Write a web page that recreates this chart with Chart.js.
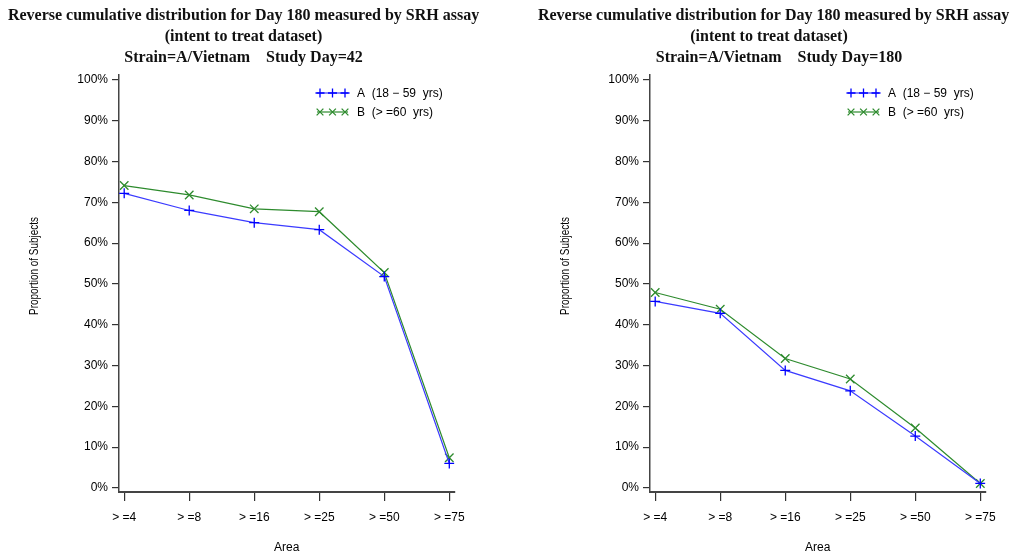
<!DOCTYPE html>
<html>
<head>
<meta charset="utf-8">
<script src="https://cdn.jsdelivr.net/npm/chart.js@4.4.1/dist/chart.umd.min.js"></script>
<style>
  html, body { margin: 0; padding: 0; background: #fff; }
  #wrap { position: relative; width: 1010px; height: 558px; overflow: hidden; }
  .panel { position: absolute; top: 0; width: 505px; height: 558px; }
</style>
</head>
<body>
<div id="wrap">
  <div class="panel" style="left:0"><canvas id="c1" width="505" height="558"></canvas></div>
  <div class="panel" style="left:505px"><canvas id="c2" width="505" height="558"></canvas></div>
</div>
<script>
// ---- data ----
const categories = ['> =4', '> =8', '> =16', '> =25', '> =50', '> =75'];
const yTicks = [0, 10, 20, 30, 40, 50, 60, 70, 80, 90, 100];
const day42A = [72.2, 68.0, 65.0, 63.3, 51.8, 6.0];
const day42B = [74.1, 71.8, 68.4, 67.7, 52.8, 7.4];
const day180A = [45.7, 42.8, 28.8, 23.8, 12.7, 1.1];
const day180B = [47.9, 43.8, 31.7, 26.7, 14.7, 1.1];
const seriesNames = ['A  (18 \u2212 59  yrs)', 'B  (> =60  yrs)'];
const titleLines42 = ['Reverse cumulative distribution for Day 180 measured by SRH assay', '(intent to treat dataset)', 'Strain=A/Vietnam    Study Day=42'];
const titleLines180 = ['Reverse cumulative distribution for Day 180 measured by SRH assay', '(intent to treat dataset)', 'Strain=A/Vietnam    Study Day=180'];
const yTitle = 'Proportion of Subjects';
const xTitle = 'Area';

const BLUE = '#0000ff';
const BLUE_LINE = '#3b3bff';
const GREEN = '#2e8b2e';
const SANS = '"Liberation Sans", Arial, sans-serif';
const SERIF = '"Liberation Serif", "Times New Roman", serif';

function drawMarker(ctx, style, x, y, r, color) {
  ctx.save();
  ctx.strokeStyle = color;
  ctx.lineWidth = 1.3;
  ctx.beginPath();
  if (style === 'cross') {
    ctx.moveTo(x - r, y); ctx.lineTo(x + r, y);
    ctx.moveTo(x, y - r); ctx.lineTo(x, y + r);
  } else {
    const d = r * 0.75;
    ctx.moveTo(x - d, y - d); ctx.lineTo(x + d, y + d);
    ctx.moveTo(x - d, y + d); ctx.lineTo(x + d, y - d);
  }
  ctx.stroke();
  ctx.restore();
}

function makeDecor(cfg) {
  return {
    id: 'decor',
    afterDraw(chart) {
      const ctx = chart.ctx;
      ctx.save();
      // titles
      ctx.fillStyle = '#111';
      ctx.font = 'bold 16px ' + SERIF;
      ctx.textAlign = 'center';
      ctx.textBaseline = 'middle';
      cfg.titles.forEach((t, i) => ctx.fillText(t, cfg.titleX[i], 16 + i * 21));
      // y title (condensed sans)
      ctx.font = '12px ' + SANS;
      ctx.fillStyle = '#000';
      ctx.save();
      ctx.translate(cfg.yTitleX, 266);
      ctx.rotate(-Math.PI / 2);
      ctx.scale(0.83, 1);
      ctx.fillText(yTitle, 0, 0);
      ctx.restore();
      // x title
      const xs = chart.scales.x;
      ctx.fillText(xTitle, (xs.left + xs.right) / 2, 548);
      // legend
      const lx = cfg.legendX;
      const rows = [{y: 93, color: BLUE, line: BLUE_LINE, style: 'cross'}, {y: 112, color: GREEN, line: GREEN, style: 'crossRot'}];
      ctx.textAlign = 'left';
      rows.forEach((r, i) => {
        ctx.strokeStyle = r.line;
        ctx.lineWidth = 1.2;
        ctx.beginPath();
        ctx.moveTo(lx, r.y); ctx.lineTo(lx + 31, r.y);
        ctx.stroke();
        [lx + 3, lx + 15.5, lx + 28].forEach(mx => drawMarker(ctx, r.style, mx, r.y, 4.5, r.color));
        ctx.fillStyle = '#000';
        ctx.fillText(seriesNames[i], lx + 40, r.y + 1);
      });
      ctx.restore();
    }
  };
}

function makeChart(id, aVals, bVals, cfg) {
  return new Chart(document.getElementById(id), {
    type: 'line',
    data: {
      datasets: [
        {
          label: seriesNames[0],
          data: aVals.map((v, i) => ({x: i, y: v})),
          borderColor: BLUE_LINE, borderWidth: 1.2,
          pointStyle: 'cross', pointRadius: 5, pointBorderColor: BLUE, pointBorderWidth: 1.3,
          pointBackgroundColor: BLUE, tension: 0, fill: false
        },
        {
          label: seriesNames[1],
          data: bVals.map((v, i) => ({x: i, y: v})),
          borderColor: GREEN, borderWidth: 1.2,
          pointStyle: 'crossRot', pointRadius: 6, pointBorderColor: GREEN, pointBorderWidth: 1.3,
          pointBackgroundColor: GREEN, tension: 0, fill: false
        }
      ]
    },
    options: {
      responsive: false,
      animation: false,
      devicePixelRatio: 1,
      layout: { padding: { left: 0, top: 75, right: cfg.padRight, bottom: 0 } },
      plugins: { legend: { display: false }, title: { display: false }, tooltip: { enabled: false } },
      scales: {
        x: {
          type: 'linear', min: -0.08, max: 5.08,
          afterBuildTicks: s => { s.ticks = categories.map((c, i) => ({value: i})); },
          afterFit: s => { s.height = 66; },
          ticks: { callback: v => categories[v], color: '#000', font: { family: SANS, size: 12 }, padding: 9, maxRotation: 0, autoSkip: false },
          grid: { drawOnChartArea: false, drawTicks: true, tickLength: 9, color: '#333', lineWidth: 1.2 },
          border: { display: true, color: '#444', width: 2 }
        },
        y: {
          min: -1, max: 101.2,
          afterBuildTicks: s => { s.ticks = yTicks.map(v => ({value: v})); },
          afterFit: s => { s.width = cfg.yWidth; },
          ticks: { callback: v => v + '%', color: '#000', font: { family: SANS, size: 12 }, padding: 4 },
          grid: { drawOnChartArea: false, drawTicks: true, tickLength: 7, color: '#333', lineWidth: 1.2 },
          border: { display: true, color: '#444', width: 1.5 }
        }
      }
    },
    plugins: [makeDecor(cfg)]
  });
}

makeChart('c1', day42A, day42B, {
  yWidth: 119, padRight: 505 - 454.5,
  titles: titleLines42, titleX: [243.5, 243.5, 243.5],
  yTitleX: 35, legendX: 317
});
makeChart('c2', day180A, day180B, {
  yWidth: 145, padRight: 505 - 480.5,
  titles: titleLines180, titleX: [773.5 - 505, 769 - 505, 779 - 505],
  yTitleX: 566 - 505, legendX: 848 - 505
});
</script>
</body>
</html>
